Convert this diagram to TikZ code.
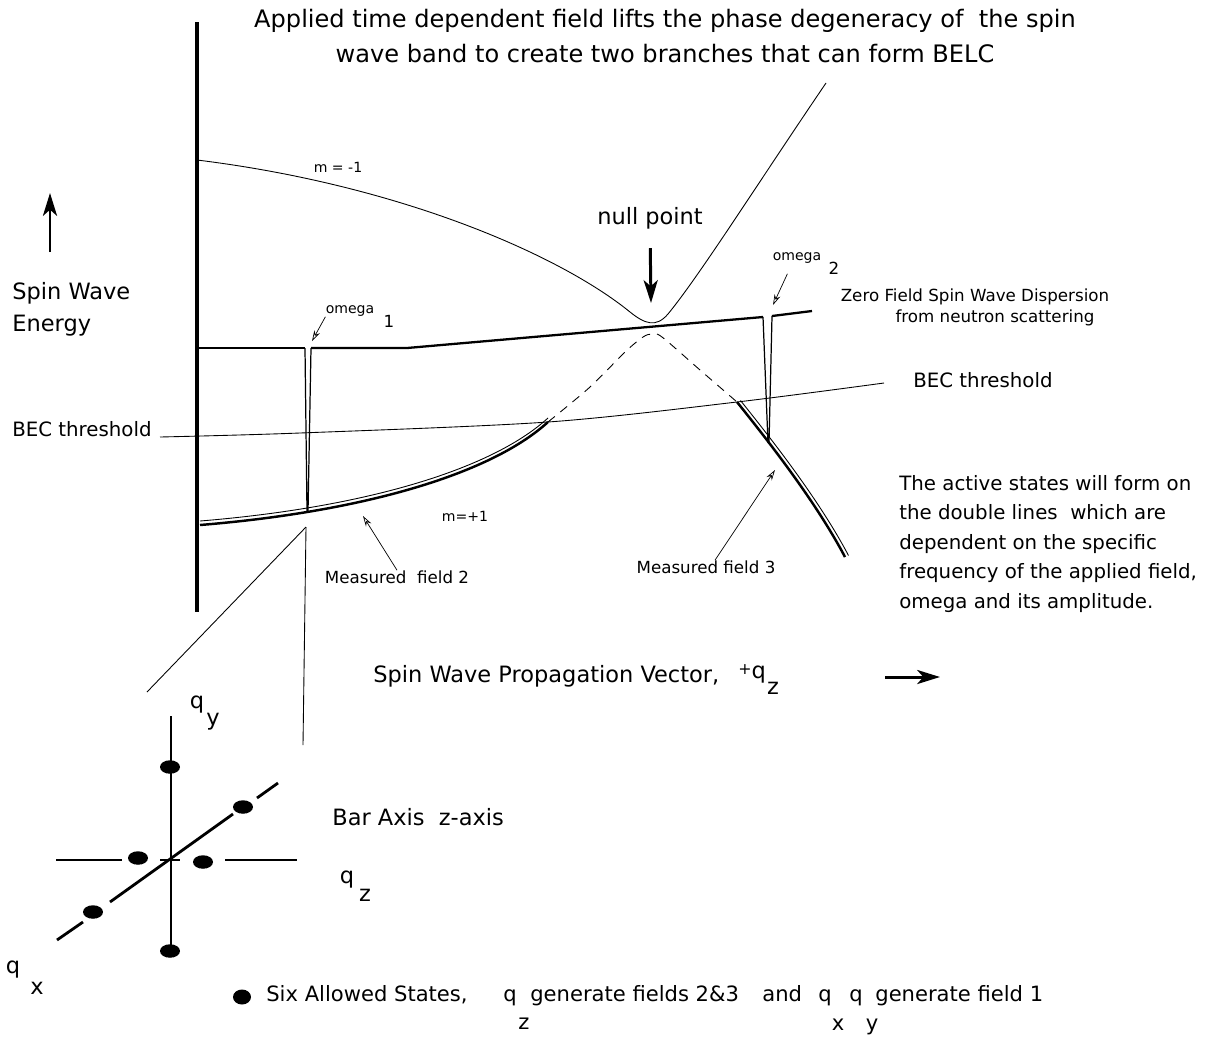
\documentclass[tikz,border=0pt]{standalone}
\usepackage{fontspec}
\setmainfont{DejaVu Sans}
\usetikzlibrary{arrows.meta, shapes.geometric}

\begin{document}
\begin{tikzpicture}[
        x=0.02cm, y=-0.02cm,
        every node/.style={inner sep=0pt},
        big/.style={font=\fontsize{13.7}{19.4}\selectfont},
        mid/.style={font=\fontsize{12.8}{18.2}\selectfont},
        lgd/.style={font=\fontsize{12}{14}\selectfont},
        para/.style={font=\fontsize{11.25}{16.8}\selectfont},
        small/.style={font=\fontsize{9.5}{11}\selectfont},
        tiny/.style={font=\fontsize{8}{10}\selectfont},
        thinline/.style={line width=0.5pt},
        disp/.style={line width=1.3pt},
        notch/.style={line width=0.7pt},
        axis/.style={line width=2pt},
        qaxis/.style={line width=1.6pt},
        branch/.style={line width=1.4pt},
        bigarrow/.style={line width=1.7pt, -{Stealth[length=13pt, width=8pt, inset=3.5pt]}},
        ptr/.style={line width=0.4pt, -{Stealth[length=6pt, width=3.5pt, open]}},
        dot/.style={ellipse, fill=black, minimum width=0.4cm, minimum height=0.27cm}
    ]
        \useasboundingbox (0,0) rectangle (1209,1038);

        % Title
        \node[big, align=center] (title) at (665,36) {Applied time dependent field lifts the phase degeneracy of~ the spin\\wave band to create two branches that can form BELC};

        % Energy axis
        \draw[axis] (197,22) -- (197,612);
        \node[mid, anchor=west, align=left] (swe) at (12,309) {Spin Wave\\Energy};
        \coordinate (ebase) at (50,252);
        \coordinate (etop) at (50,193);
        \draw[bigarrow] (ebase) -- (etop);

        % Upper branch m = -1
        \draw[thinline] (197,160) .. controls (400,185) and (560,255) .. (630,312)
            .. controls (645,324) and (656,328) .. (668,314)
            .. controls (700,275) and (760,180) .. (826,83);
        \node[tiny] (mminus) at (338,167) {m = -1};

        % Zero field dispersion with the two notches
        \draw[disp] (197,348) -- (305,348);
        \draw[disp] (311,348) -- (407,348) -- (763,317);
        \draw[disp] (772,316) -- (812,311);
        \draw[notch] (305,348) -- (307,512) (311,348) -- (308,512);
        \draw[notch] (763,317) -- (768,443) (772,316) -- (769,443);
        \node[small] (zf) at (975,297) {Zero Field Spin Wave Dispersion};
        \node[small] (zfb) at (995,318) {from neutron scattering};

        % Lower branch m = +1 (double lines below threshold)
        \draw[branch] (200,525) .. controls (360,512) and (490,475) .. (548,422);
        \draw[thinline, yshift=0.08cm] (200,525) .. controls (360,512) and (490,475) .. (548,422);
        \draw[thinline, dash pattern=on 5pt off 4pt] plot[smooth] coordinates {(548,422) (590,387) (625,352) (643,337) (652,334) (662,337) (700,370) (737,402)};
        \draw[branch] (737,402) .. controls (765,437) and (815,500) .. (845,557);
        \draw[thinline, xshift=0.07cm, yshift=0.03cm] (737,402) .. controls (765,437) and (815,500) .. (845,557);
        \node[tiny] (mplus) at (465,516) {m=+1};

        % BEC threshold
        \draw[thinline] plot[smooth] coordinates {(160,437) (300,433) (548,422) (737,402) (884,383)};
        \node[para, anchor=west] (becl) at (12,429) {BEC threshold};
        \node[para, anchor=west] (becr) at (913,380) {BEC threshold};

        % Null point
        \node[mid] (np) at (650,218) {null point};
        \coordinate (npt) at (651,303);
        \draw[bigarrow, shorten <=0.38cm] (np.south) -- (npt);

        % Field frequencies
        \node[tiny] (w1) at (350,311) {omega};
        \node[small] (w1s) at (389,321) {1};
        \coordinate (w1t) at (312,341);
        \draw[ptr] (w1.south west) -- (w1t);
        \node[tiny] (w2) at (797,258) {omega};
        \node[small] (w2s) at (834,268) {2};
        \coordinate (w2t) at (773,305);
        \draw[ptr] ([xshift=0.3cm, yshift=-0.2cm]w2.south west) -- (w2t);

        % Measured fields
        \node[small] (mf2) at (397,577) {Measured~ field 2};
        \coordinate (mf2t) at (363,516);
        \draw[ptr] (mf2.north) -- (mf2t);
        \node[small] (mf3) at (706,567) {Measured field 3};
        \coordinate (mf3t) at (775,470);
        \draw[ptr] ([xshift=0.18cm]mf3.north) -- (mf3t);

        % Note
        \node[para, anchor=north west, align=left] (note) at (899,475) {The active states will form on\\the double lines~ which are\\dependent on the specific\\frequency of the applied field,\\omega and its amplitude.};

        % Propagation vector
        \node[mid, anchor=west] (prop) at (373,676) {Spin Wave Propagation Vector,};
        \node[mid] (propq) at (752,674) {\raisebox{0.2em}{\fontsize{9}{10}\selectfont +}q};
        \node[mid] (propz) at (773,688) {z};
        \coordinate (pbase) at (885,677);
        \coordinate (ptip) at (940,677);
        \draw[bigarrow] (pbase) -- (ptip);

        % Zoom lines to the q-space inset
        \coordinate (cone) at (306,527);
        \coordinate (coneA) at (303,745);
        \coordinate (coneB) at (147,692);
        \draw[thinline] (cone) -- (coneA);
        \draw[thinline] (cone) -- (coneB);

        % q-space axes
        \draw[qaxis] (171,716) -- (171,946);
        \draw[qaxis] (56,860) -- (122,860) (160,860) -- (180,860) (225,860) -- (297,860);
        \draw[qaxis] (57,940) -- (83,922) (110,902) -- (233,814) (257,798) -- (278,783);
        \node[dot] (ky1) at (170,767) {};
        \node[dot] (ky2) at (170,951) {};
        \node[dot] (kz1) at (138,858) {};
        \node[dot] (kz2) at (203,862) {};
        \node[dot] (kx1) at (93,912) {};
        \node[dot] (kx2) at (243,807) {};
        \node[mid] (qy) at (197,705) {q};
        \node[mid] (qysub) at (213,722) {y};
        \node[mid] (qz) at (347,880) {q};
        \node[mid] (qzsub) at (365,895) {z};
        \node[mid] (qx) at (13,970) {q};
        \node[mid] (qxsub) at (37,988) {x};
        \node[mid, anchor=west] (bar) at (332,817) {Bar Axis~ z-axis};

        % Legend
        \node[dot, minimum width=0.36cm, minimum height=0.3cm] (legdot) at (242,997) {};
        \node[lgd, anchor=base west] (leg1) at (266,1001) {Six Allowed States,};
        \node[lgd, anchor=base] (leg2) at (510,1001) {q};
        \node[lgd, anchor=base west] (leg3) at (530,1001) {generate fields 2\&3};
        \node[lgd, anchor=base west] (leg4) at (762,1001) {and};
        \node[lgd, anchor=base] (leg5) at (825,1001) {q};
        \node[lgd, anchor=base] (leg6) at (856,1001) {q};
        \node[lgd, anchor=base west] (leg7) at (875,1001) {generate field 1};
        \node[lgd, anchor=base] (leg2s) at (524,1029) {z};
        \node[lgd, anchor=base] (leg5s) at (838,1030) {x};
        \node[lgd, anchor=base] (leg6s) at (872,1030) {y};
\end{tikzpicture}
\end{document}
